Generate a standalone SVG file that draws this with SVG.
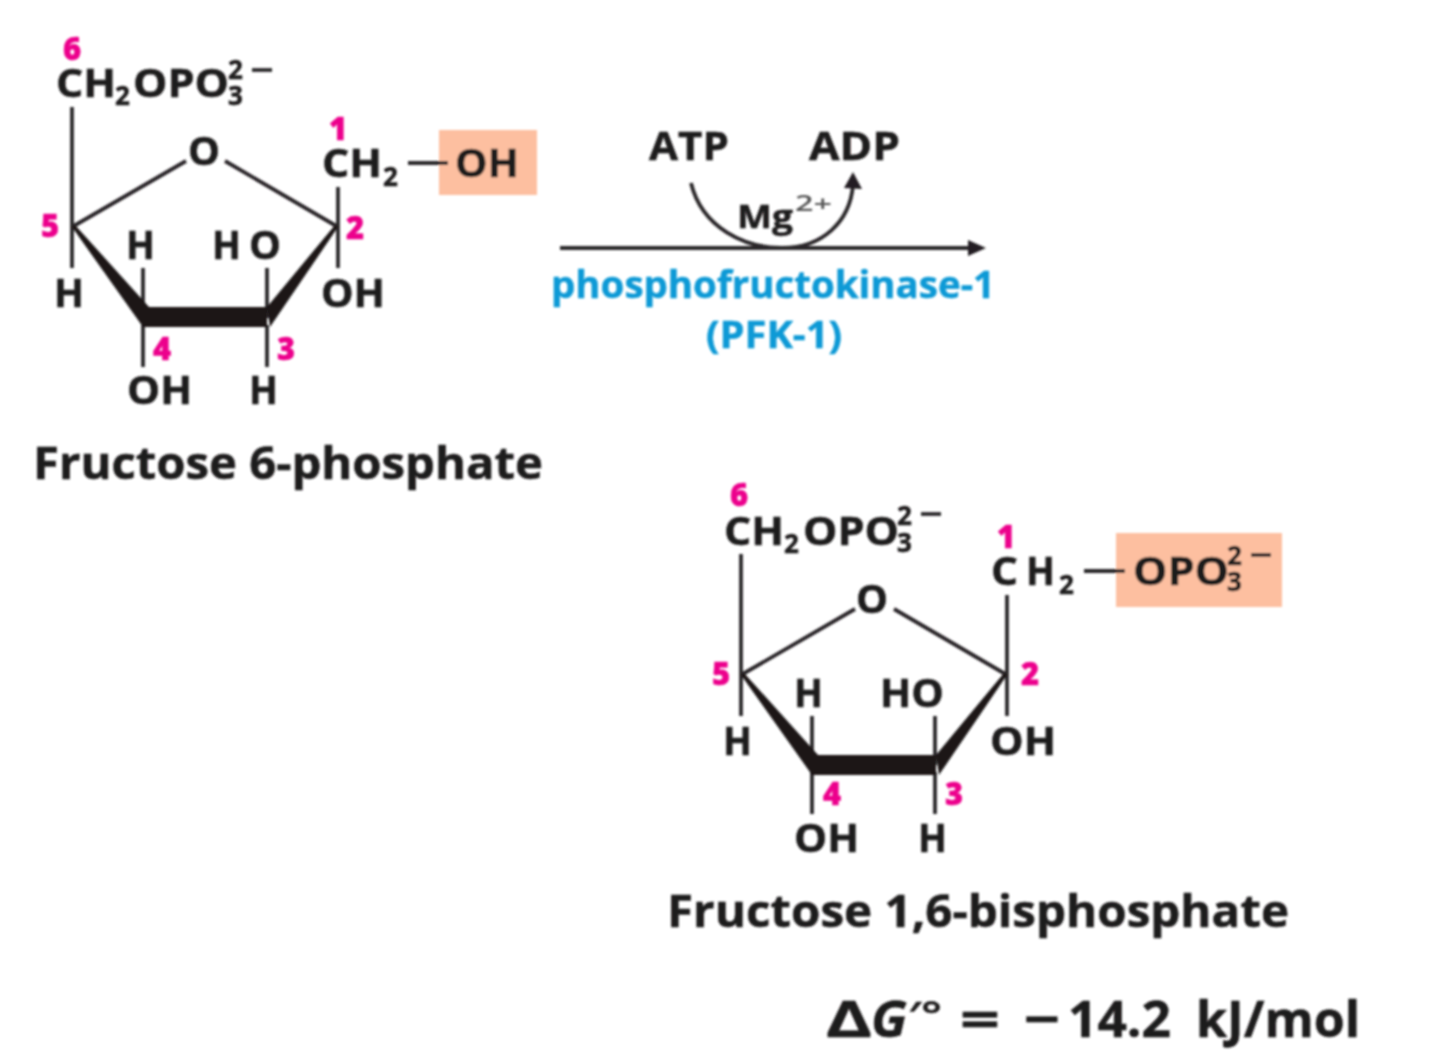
<svg xmlns="http://www.w3.org/2000/svg" width="1440" height="1056" viewBox="0 0 1440 1056">
<style>
text{font-family:"Open Sans","Noto Sans","Liberation Sans",sans-serif;font-weight:700;fill:#1f1b1c;stroke:#1f1b1c;stroke-width:.5}
.a{font-size:40px}
.s{font-size:26px}
.n{font-size:31px;font-weight:800;fill:#ec008c;stroke:#ec008c}
.c{font-size:44px}
.d{font-size:50px}
.e{font-size:38px;font-weight:700;fill:#0f9ad6;stroke:#0f9ad6}
.b{stroke:#2b2829;stroke-width:3.8;fill:none;stroke-linecap:butt}
.w{fill:#1c1819;stroke:none}
.h{fill:#fdbfa0}
</style>
<defs>
<filter id="soft" x="0" y="0" width="100%" height="100%"><feGaussianBlur stdDeviation="0.9"/></filter>
<g id="ring">
<path class="b" d="M0,0 L114,-66 M153,-66 L266,0"/>
<path class="w" d="M0,0 L3,-2 L77,80 L71,100 Z"/>
<path class="w" d="M71,80 H195 V100 H71 Z"/>
<path class="w" d="M266,0 L263,-2 L195,80 L198,100 Z"/>
</g>
</defs>
<g filter="url(#soft)">
<g id="connectors">
<path class="b" d="M560,248 H970"/>
<path d="M968,240 L986,248 L968,256 Z" fill="#231f20"/>
<path class="b" d="M691,183 C702,228 745,248 782,248 C822,248 850,222 853,185"/>
<path d="M844,188 L853,172 L862,189 Z" fill="#231f20"/>
</g>
<g id="fructose-6-phosphate">
<rect class="h" x="439" y="130" width="98" height="65"/>
<path class="b" d="M72,107 V268 M338,187 V268 M143,268 V318 M267,268 V318 M143,325 V367 M267,325 V367 M408,163 H448"/>
<use href="#ring" x="72" y="227"/>
<text class="a" x="56" y="97" textLength="60" lengthAdjust="spacingAndGlyphs">CH</text>
<text class="s" x="115" y="105">2</text>
<text class="a" x="133" y="97" textLength="96" lengthAdjust="spacingAndGlyphs">OPO</text>
<text class="s" x="228" y="79">2</text><text class="s" x="228" y="105">3</text>
<path class="b" d="M252,70 H272"/>
<text class="n" x="63" y="60">6</text>
<text class="n" x="329" y="140">1</text>
<text class="a" x="322" y="177" textLength="60" lengthAdjust="spacingAndGlyphs">CH</text>
<text class="s" x="383" y="186">2</text>
<text class="a" x="455" y="177" textLength="64" lengthAdjust="spacingAndGlyphs">OH</text>
<text class="a" x="188" y="165" textLength="32" lengthAdjust="spacingAndGlyphs">O</text>
<text class="n" x="41" y="237">5</text>
<text class="n" x="346" y="239">2</text>
<text class="n" x="153" y="360">4</text>
<text class="n" x="277" y="360">3</text>
<text class="a" x="126" y="259" textLength="29" lengthAdjust="spacingAndGlyphs">H</text>
<text class="a" x="212" y="259" textLength="29" lengthAdjust="spacingAndGlyphs">H</text>
<text class="a" x="249" y="259" textLength="32" lengthAdjust="spacingAndGlyphs">O</text>
<text class="a" x="54" y="307" textLength="30" lengthAdjust="spacingAndGlyphs">H</text>
<text class="a" x="321" y="307" textLength="64" lengthAdjust="spacingAndGlyphs">OH</text>
<text class="a" x="127" y="404" textLength="65" lengthAdjust="spacingAndGlyphs">OH</text>
<text class="a" x="249" y="404" textLength="29" lengthAdjust="spacingAndGlyphs">H</text>
<text class="c" x="33" y="479" textLength="510" lengthAdjust="spacingAndGlyphs">Fructose 6-phosphate</text>
</g>
<g id="reaction-labels">
<text class="a" x="649" y="160" textLength="80" lengthAdjust="spacingAndGlyphs">ATP</text>
<text class="a" x="809" y="160" textLength="91" lengthAdjust="spacingAndGlyphs">ADP</text>
<text style="font-size:33px" x="737" y="228" textLength="56" lengthAdjust="spacingAndGlyphs">Mg</text>
<text style="font-size:22px;font-weight:600;fill:#555;stroke:none" x="795" y="211" textLength="37" lengthAdjust="spacingAndGlyphs">2+</text>
<text class="e" x="551" y="298" textLength="444" lengthAdjust="spacingAndGlyphs">phosphofructokinase-1</text>
<text class="e" x="706" y="348" textLength="136" lengthAdjust="spacingAndGlyphs">(PFK-1)</text>
</g>
<g id="fructose-1-6-bisphosphate">
<rect class="h" x="1116" y="533" width="166" height="74"/>
<path class="b" d="M741,554 V716 M1007,595 V716 M812,716 V765 M935,716 V765 M812,772 V814 M935,772 V814 M1084,571 H1125"/>
<use href="#ring" x="741" y="675"/>
<text class="a" x="724" y="545" textLength="60" lengthAdjust="spacingAndGlyphs">CH</text>
<text class="s" x="784" y="553">2</text>
<text class="a" x="803" y="545" textLength="96" lengthAdjust="spacingAndGlyphs">OPO</text>
<text class="s" x="897" y="525">2</text><text class="s" x="897" y="552">3</text>
<path class="b" d="M921,514 H941"/>
<text class="n" x="730" y="506">6</text>
<text class="n" x="997" y="548">1</text>
<text class="a" x="991" y="585" textLength="27" lengthAdjust="spacingAndGlyphs">C</text>
<text class="a" x="1026" y="585" textLength="29" lengthAdjust="spacingAndGlyphs">H</text>
<text class="s" x="1059" y="594">2</text>
<text class="a" x="1133" y="585" textLength="96" lengthAdjust="spacingAndGlyphs">OPO</text>
<text class="s" x="1227" y="565">2</text><text class="s" x="1227" y="591">3</text>
<path class="b" d="M1251,555 H1271"/>
<text class="a" x="856" y="613" textLength="32" lengthAdjust="spacingAndGlyphs">O</text>
<text class="n" x="712" y="685">5</text>
<text class="n" x="1021" y="685">2</text>
<text class="n" x="823" y="805">4</text>
<text class="n" x="945" y="805">3</text>
<text class="a" x="794" y="707" textLength="29" lengthAdjust="spacingAndGlyphs">H</text>
<text class="a" x="880" y="707" textLength="64" lengthAdjust="spacingAndGlyphs">HO</text>
<text class="a" x="723" y="755" textLength="29" lengthAdjust="spacingAndGlyphs">H</text>
<text class="a" x="990" y="755" textLength="66" lengthAdjust="spacingAndGlyphs">OH</text>
<text class="a" x="794" y="852" textLength="65" lengthAdjust="spacingAndGlyphs">OH</text>
<text class="a" x="918" y="852" textLength="29" lengthAdjust="spacingAndGlyphs">H</text>
<text class="c" x="667" y="927" textLength="622" lengthAdjust="spacingAndGlyphs">Fructose 1,6-bisphosphate</text>
</g>
<g id="delta-g">
<text class="d" x="826" y="1037" textLength="46" lengthAdjust="spacingAndGlyphs">Δ</text>
<text class="d" style="font-style:italic" x="871" y="1037" textLength="36" lengthAdjust="spacingAndGlyphs">G</text>
<text style="font-size:36px;font-weight:600" x="908" y="1028" textLength="34" lengthAdjust="spacingAndGlyphs">′°</text>
<text class="d" x="960" y="1037" textLength="40" lengthAdjust="spacingAndGlyphs">=</text>
<text class="d" x="1024" y="1037" textLength="36" lengthAdjust="spacingAndGlyphs">−</text>
<text class="d" x="1068" y="1037" textLength="103" lengthAdjust="spacingAndGlyphs">14.2</text>
<text class="d" x="1196" y="1037" textLength="164" lengthAdjust="spacingAndGlyphs">kJ/mol</text>
</g>
</g>
</svg>
